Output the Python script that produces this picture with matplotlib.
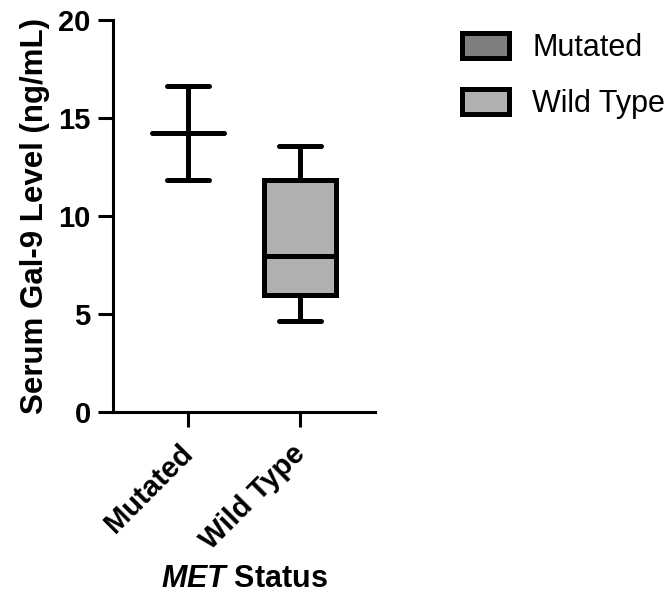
import matplotlib
matplotlib.use("Agg")
import matplotlib.pyplot as plt
from matplotlib.patches import Patch
from matplotlib.transforms import ScaledTranslation

plt.rcParams['font.family'] = ['Liberation Sans', 'DejaVu Sans']
plt.rcParams['mathtext.fontset'] = 'custom'
plt.rcParams['mathtext.bfit'] = 'Liberation Sans:italic:bold'
plt.rcParams['mathtext.rm'] = 'Liberation Sans'
plt.rcParams['mathtext.it'] = 'Liberation Sans:italic'
plt.rcParams['mathtext.bf'] = 'Liberation Sans:bold'

categories = ["Mutated", "Wild Type"]
whislo = [11.82, 4.64]
q1 = [14.22, 5.95]
med = [14.22, 7.96]
q3 = [14.22, 11.82]
whishi = [16.65, 13.57]
colors = ["#7f7f7f", "#b0b0b0"]
yticks = [0, 5, 10, 15, 20]

fig = plt.figure(figsize=(6.7, 5.96), dpi=100)
ax = fig.add_axes([113/670, 1-412/596, (375-113)/670, (412-20)/596])

stats = []
for i, c in enumerate(categories):
    stats.append(dict(label=c, whislo=whislo[i], q1=q1[i], med=med[i], q3=q3[i], whishi=whishi[i], fliers=[]))

bp = ax.bxp(stats, positions=[0, 1], widths=0.65, patch_artist=True, showfliers=False,
            boxprops=dict(linewidth=3.6, edgecolor='black'),
            whiskerprops=dict(linewidth=3.6, color='black', solid_capstyle='butt'),
            capprops=dict(linewidth=3.6, color='black', solid_capstyle='round'),
            medianprops=dict(linewidth=3.6, color='black', solid_capstyle='round'),
            capwidths=0.375)
for patch, col in zip(bp['boxes'], colors):
    patch.set_facecolor(col)

ax.set_xlim(-0.67, 1.67)
ax.set_ylim(0, 20)
for s in ['top', 'right']:
    ax.spines[s].set_visible(False)
for s in ['left', 'bottom']:
    ax.spines[s].set_linewidth(2.2)
ax.tick_params(width=2.2, length=11, pad=5)

ax.set_yticks(yticks)
ax.set_yticklabels([str(t) for t in yticks], fontsize=21, fontweight='bold')
ax.set_xticks([0, 1])
ax.set_xticklabels(categories, fontsize=21, fontweight='bold', rotation=45, ha='right', rotation_mode='anchor')
offset = ScaledTranslation(-9/100, -5/100, fig.dpi_scale_trans)
for lab in ax.xaxis.get_majorticklabels():
    lab.set_transform(lab.get_transform() + offset)

ax.set_ylabel("Serum Gal-9 Level (ng/mL)", fontsize=22.5, fontweight='bold', labelpad=6)
ax.set_xlabel(r"$\bfit{MET}$ Status", fontsize=22, fontweight='bold', labelpad=7)

handles = [Patch(facecolor=c, edgecolor='black', linewidth=3.6, label=l) for c, l in zip(colors, categories)]
fig.legend(handles=handles, loc='upper left', bbox_to_anchor=(462/670, 1-33/596), frameon=False,
           borderpad=0, borderaxespad=0,
           fontsize=22, handlelength=1.55, handleheight=0.85, labelspacing=0.85, handletextpad=0.75)

fig.savefig("out.png", dpi=100)
